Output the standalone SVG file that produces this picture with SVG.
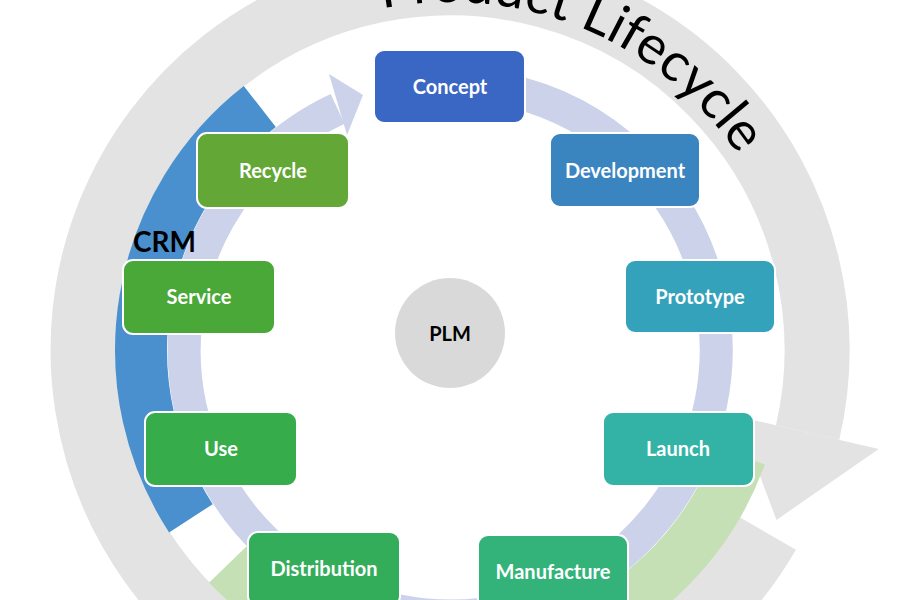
<svg xmlns="http://www.w3.org/2000/svg" xmlns:xlink="http://www.w3.org/1999/xlink" width="900" height="600" viewBox="0 0 900 600">
<style>
.box{stroke:#fff;stroke-width:2}
.lbl{font-family:Lato,"Liberation Sans",sans-serif;font-weight:bold;font-size:20px;fill:#fff;text-anchor:middle;dominant-baseline:central}
</style>
<defs>
<path id="tp" d="M 102 350 A 348 348 0 1 1 798 350 A 348 348 0 1 1 102 350"/>
</defs>
<rect width="900" height="600" fill="#fff"/>
<g id="connectors">
<!-- gray ring arrow: 30deg -> 373deg, r 367 -->
<path d="M 767.8 533.5 A 367 367 0 1 1 807.6 432.6" fill="none" stroke="#e3e3e3" stroke-width="65"/>
<polygon points="737.4,416.4 878.7,449 776.5,519.9" fill="#e3e3e3"/>
<!-- blue CRM arc 147->232, r 309 -->
<path d="M 190.9 518.3 A 309 309 0 0 1 259.8 106.5" fill="none" stroke="#4a90cf" stroke-width="52"/>
<!-- green arc 136->20 -->
<path d="M 227.7 564.6 A 309 309 0 0 0 740.4 455.7" fill="none" stroke="#c5e0b4" stroke-width="52"/>
<!-- lavender ring 255 -> 245 -->
<path d="M 381.2 93 A 266 266 0 1 1 337.6 108.9" fill="none" stroke="#cbd2e9" stroke-width="33"/>
<polygon points="329,74 347,135 363,95" fill="#cbd2e9"/>
</g>
<text font-family="Lato,'Liberation Sans',sans-serif" font-size="54" fill="#000"><textPath xlink:href="#tp" startOffset="478">Product Lifecycle</textPath></text>
<text x="133" y="252" font-family="Lato,'Liberation Sans',sans-serif" font-weight="bold" font-size="28" fill="#000">CRM</text>
<g id="plm"><circle cx="450" cy="333" r="55" fill="#d9d9d9"/><text x="450" y="333" class="lbl" style="fill:#000">PLM</text></g>
<g id="concept"><rect class="box" x="374" y="50" width="151" height="73" rx="10" fill="#3a66c4"/><text class="lbl" x="450" y="86">Concept</text></g>
<g id="development"><rect class="box" x="550" y="133" width="150" height="74" rx="10" fill="#3a84c0"/><text class="lbl" x="625" y="170">Development</text></g>
<g id="prototype"><rect class="box" x="625" y="260" width="150" height="73" rx="10" fill="#35a2bb"/><text class="lbl" x="700" y="296">Prototype</text></g>
<g id="launch"><rect class="box" x="603" y="412" width="151" height="74" rx="10" fill="#33b3a5"/><text class="lbl" x="678" y="448">Launch</text></g>
<g id="manufacture"><rect class="box" x="478" y="535" width="150" height="75" rx="10" fill="#33b37a"/><text class="lbl" x="553" y="571">Manufacture</text></g>
<g id="distribution"><rect class="box" x="248" y="532" width="152" height="74" rx="10" fill="#33ad5a"/><text class="lbl" x="324" y="568">Distribution</text></g>
<g id="use"><rect class="box" x="145" y="412" width="152" height="74" rx="10" fill="#36ac4a"/><text class="lbl" x="221" y="448">Use</text></g>
<g id="service"><rect class="box" x="123" y="260" width="152" height="74" rx="10" fill="#4aa838"/><text class="lbl" x="199" y="296">Service</text></g>
<g id="recycle"><rect class="box" x="197" y="133" width="152" height="75" rx="10" fill="#63a736"/><text class="lbl" x="273" y="170">Recycle</text></g>
</svg>
